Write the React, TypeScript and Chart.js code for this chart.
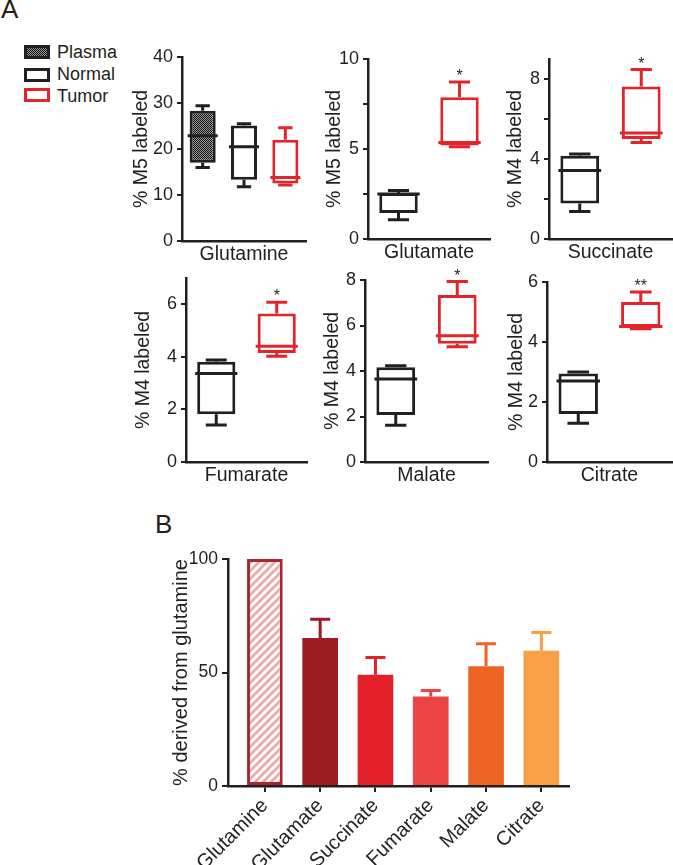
import React, { useEffect, useRef } from 'react';
import { Chart, registerables } from 'chart.js';

Chart.register(...registerables);

const FONT = '"Liberation Sans", Arial, Helvetica, sans-serif';
const INK = '#231f20';
const TUMOR_RED = '#e3242b';

// ---------- Data: panel A (box plots) ----------
const GROUPS = ['Plasma', 'Normal', 'Tumor'];
const METABOLITES = ['Glutamine', 'Glutamate', 'Succinate', 'Fumarate', 'Malate', 'Citrate'];
const PANEL_GROUPS = [[0, 1, 2], [1, 2], [1, 2], [1, 2], [1, 2], [1, 2]];
const BOX_MIN = [[16.0, 11.8, 12.2], [1.07, 5.13], [1.37, 4.83], [1.41, 4.02], [1.61, 5.07], [1.29, 4.44]];
const BOX_Q1 = [[17.0, 13.3, 12.5], [1.44, 5.19], [1.78, 5.0], [1.82, 4.15], [2.07, 5.2], [1.6, 4.5]];
const BOX_MEDIAN = [[22.9, 20.5, 13.8], [2.5, 5.36], [3.43, 5.3], [3.37, 4.4], [3.65, 5.55], [2.7, 4.52]];
const BOX_Q3 = [[28.3, 25.1, 22.0], [2.55, 7.88], [4.16, 7.63], [3.81, 5.65], [4.16, 7.34], [2.95, 5.33]];
const BOX_MAX = [[29.4, 25.5, 24.6], [2.7, 8.72], [4.25, 8.47], [3.88, 6.08], [4.23, 7.93], [3.0, 5.67]];
const SIGNIFICANCE = ['', '*', '*', '*', '*', '**'];
const Y_TITLES = ['% M5 labeled', '% M5 labeled', '% M4 labeled', '% M4 labeled', '% M4 labeled', '% M4 labeled'];
const Y_MAX = [40, 10, 9, 7, 8, 6];
const Y_TICKS = [[0, 10, 20, 30, 40], [0, 2.5, 5, 7.5, 10], [0, 2, 4, 6, 8], [0, 2, 4, 6], [0, 2, 4, 6, 8], [0, 2, 4, 6]];
const Y_TICK_LABELS = [[0, 10, 20, 30, 40], [0, 5, 10], [0, 4, 8], [0, 2, 4, 6], [0, 2, 4, 6, 8], [0, 2, 4, 6]];

// ---------- Data: panel B (bars) ----------
const B_CATEGORIES = ['Glutamine', 'Glutamate', 'Succinate', 'Fumarate', 'Malate', 'Citrate'];
const B_VALUES = [100, 65.2, 49.0, 39.4, 52.8, 59.6];
const B_ERRORS = [0, 8.3, 7.6, 2.7, 9.9, 8.0];
const B_Y_TICKS = [0, 50, 100];

// ---------- Styles / layout ----------
const GROUP_STROKE = [INK, INK, TUMOR_RED];
const B_COLORS = ['#a5262d', '#9d1c21', '#e42129', '#ec4346', '#ee6424', '#f7a046'];
const HATCH_COLOR = '#f2a2a4';

// chart areas in page pixels: left, right, top, bottom, y-title gap from axis
const PANEL_AREAS = [
  { l: 182, r: 306, t: 57, b: 241, gap: 40 },
  { l: 368, r: 490, t: 59, b: 239, gap: 33 },
  { l: 549, r: 672, t: 59, b: 239, gap: 33 },
  { l: 186, r: 307, t: 278, b: 462, gap: 42 },
  { l: 365, r: 488, t: 280, b: 462, gap: 32 },
  { l: 547, r: 672, t: 282, b: 462, gap: 30 },
];
const YW = 90; // y-axis box width
const PT = 28; // top padding
const XH = 30; // x-axis box height
const TICK_FONT = 18;
const TITLE_FONT = 19.5;
const AXIS_W = 2.5;

function makeChecker(): CanvasPattern | string {
  const c = document.createElement('canvas');
  c.width = 2;
  c.height = 2;
  const g = c.getContext('2d');
  if (!g) return '#444';
  g.fillStyle = '#111';
  g.fillRect(0, 0, 2, 2);
  g.fillStyle = '#9a9a9a';
  g.fillRect(0, 0, 1, 1);
  g.fillRect(1, 1, 1, 1);
  return g.createPattern(c, 'repeat') || '#444';
}

function makeHatch(): CanvasPattern | string {
  const s = 8;
  const c = document.createElement('canvas');
  c.width = s;
  c.height = s;
  const g = c.getContext('2d');
  if (!g) return HATCH_COLOR;
  g.fillStyle = '#fff';
  g.fillRect(0, 0, s, s);
  g.strokeStyle = HATCH_COLOR;
  g.lineWidth = 2.6;
  g.beginPath();
  g.moveTo(-2, s + 2);
  g.lineTo(s + 2, -2);
  g.moveTo(-2, 2);
  g.lineTo(2, -2);
  g.moveTo(s - 2, s + 2);
  g.lineTo(s + 2, s - 2);
  g.stroke();
  return g.createPattern(c, 'repeat') || HATCH_COLOR;
}

const boxWhiskerPlugin = {
  id: 'boxWhiskers',
  afterDatasetsDraw(chart: any, _args: any, opts: any) {
    const idx = opts.panel;
    const { ctx } = chart;
    const y = chart.scales.y;
    const meta = chart.getDatasetMeta(0);
    const groups = PANEL_GROUPS[idx];
    meta.data.forEach((bar: any, i: number) => {
      const { x, width } = bar.getProps(['x', 'width'], true);
      const color = GROUP_STROKE[groups[i]];
      const pMin = y.getPixelForValue(BOX_MIN[idx][i]);
      const pMax = y.getPixelForValue(BOX_MAX[idx][i]);
      const pQ1 = y.getPixelForValue(BOX_Q1[idx][i]);
      const pQ3 = y.getPixelForValue(BOX_Q3[idx][i]);
      const pMed = y.getPixelForValue(BOX_MEDIAN[idx][i]);
      const cap = width * 0.55;
      ctx.save();
      ctx.strokeStyle = color;
      ctx.lineWidth = 3;
      ctx.beginPath();
      ctx.moveTo(x, pQ3);
      ctx.lineTo(x, pMax);
      ctx.moveTo(x, pQ1);
      ctx.lineTo(x, pMin);
      ctx.moveTo(x - cap / 2, pMax);
      ctx.lineTo(x + cap / 2, pMax);
      ctx.moveTo(x - cap / 2, pMin);
      ctx.lineTo(x + cap / 2, pMin);
      ctx.moveTo(x - width / 2 - 2, pMed);
      ctx.lineTo(x + width / 2 + 2, pMed);
      ctx.stroke();
      if (i === groups.length - 1 && SIGNIFICANCE[idx]) {
        ctx.fillStyle = INK;
        ctx.font = `16px ${FONT}`;
        ctx.textAlign = 'center';
        ctx.textBaseline = 'alphabetic';
        ctx.fillText(SIGNIFICANCE[idx], x, pMax - 1);
      }
      ctx.restore();
    });
  },
};

const errorBarPlugin = {
  id: 'errorBars',
  afterDatasetsDraw(chart: any) {
    const { ctx } = chart;
    const y = chart.scales.y;
    const meta = chart.getDatasetMeta(0);
    meta.data.forEach((bar: any, i: number) => {
      const err = B_ERRORS[i];
      if (!err) return;
      const { x, y: top } = bar.getProps(['x', 'y'], true);
      const pErr = y.getPixelForValue(B_VALUES[i] + err);
      ctx.save();
      ctx.strokeStyle = B_COLORS[i];
      ctx.lineWidth = 3;
      ctx.beginPath();
      ctx.moveTo(x, top);
      ctx.lineTo(x, pErr);
      ctx.moveTo(x - 10, pErr);
      ctx.lineTo(x + 10, pErr);
      ctx.stroke();
      ctx.restore();
    });
  },
};

function BoxPanel({ idx }: { idx: number }) {
  const ref = useRef<HTMLCanvasElement>(null);
  const a = PANEL_AREAS[idx];
  const pr = Math.min(10, 673 - a.r);
  const left = a.l - YW;
  const top = a.t - PT;
  const width = a.r - a.l + YW + pr;
  const height = a.b - a.t + PT + XH;

  useEffect(() => {
    if (!ref.current) return;
    const groups = PANEL_GROUPS[idx];
    const lh = TITLE_FONT * 1.2;
    const chart = new Chart(ref.current, {
      type: 'bar',
      data: {
        labels: groups.map((g) => GROUPS[g]),
        datasets: [
          {
            data: groups.map((_g, i) => [BOX_Q1[idx][i], BOX_Q3[idx][i]]) as any,
            backgroundColor: groups.map((g) => (g === 0 ? makeChecker() : '#ffffff')) as any,
            borderColor: groups.map((g) => GROUP_STROKE[g]),
            borderWidth: 3,
            borderSkipped: false,
            barPercentage: 0.63,
            categoryPercentage: 1,
          },
        ],
      },
      options: {
        animation: false,
        responsive: false,
        layout: { padding: { top: PT, right: pr, left: 0, bottom: 0 } },
        plugins: {
          legend: { display: false },
          tooltip: { enabled: false },
          boxWhiskers: { panel: idx },
        } as any,
        scales: {
          x: {
            grid: { display: true, drawOnChartArea: false, drawTicks: false },
            border: { display: true, color: INK, width: AXIS_W },
            ticks: { display: false },
            title: {
              display: true,
              text: METABOLITES[idx],
              color: INK,
              font: { family: FONT, size: TITLE_FONT, lineHeight: 1.2 },
              padding: { top: 0, bottom: 5 },
            },
            afterFit: (s: any) => {
              s.height = XH;
            },
          },
          y: {
            min: 0,
            max: Y_MAX[idx],
            afterBuildTicks: (s: any) => {
              s.ticks = Y_TICKS[idx].map((v) => ({ value: v }));
            },
            ticks: {
              color: INK,
              font: { family: FONT, size: TICK_FONT },
              padding: 4,
              callback: (v: any) => (Y_TICK_LABELS[idx].includes(Number(v)) ? String(v) : ''),
            },
            grid: { display: true, drawOnChartArea: false, drawTicks: true, tickLength: 5, color: INK, lineWidth: 2 },
            border: { display: true, color: INK, width: AXIS_W },
            title: {
              display: true,
              text: Y_TITLES[idx],
              color: INK,
              font: { family: FONT, size: TITLE_FONT, lineHeight: 1.2 },
              padding: { top: YW - a.gap - lh / 2, bottom: 0 },
            },
            afterFit: (s: any) => {
              s.width = YW;
            },
          },
        },
      } as any,
      plugins: [boxWhiskerPlugin],
    });
    return () => chart.destroy();
  }, [idx]);

  return (
    <canvas
      ref={ref}
      width={width}
      height={height}
      style={{ position: 'absolute', left, top, width, height }}
    />
  );
}

function BarPanel() {
  const ref = useRef<HTMLCanvasElement>(null);
  const area = { l: 228, r: 569, t: 559, b: 786 };
  const yw = 130;
  const pt = 20;
  const pr = 12;
  const left = area.l - yw;
  const top = area.t - pt;
  const width = area.r - area.l + yw + pr;
  const height = 865 - top;
  const xh = 865 - area.b;

  useEffect(() => {
    if (!ref.current) return;
    const chart = new Chart(ref.current, {
      type: 'bar',
      data: {
        datasets: [
          {
            data: B_VALUES.map((v, i) => ({ x: i, y: v })),
            backgroundColor: B_COLORS.map((c, i) => (i === 0 ? makeHatch() : c)) as any,
            borderColor: B_COLORS,
            borderWidth: B_VALUES.map((_v, i) => (i === 0 ? 3 : 0)),
            borderSkipped: false,
            barPercentage: 0.645,
            categoryPercentage: 1,
          },
        ],
      },
      options: {
        animation: false,
        responsive: false,
        layout: { padding: { top: pt, right: pr, left: 0, bottom: 0 } },
        plugins: { legend: { display: false }, tooltip: { enabled: false } },
        scales: {
          x: {
            type: 'linear',
            min: -0.667,
            max: 5.5,
            offset: false,
            afterBuildTicks: (s: any) => {
              s.ticks = B_CATEGORIES.map((_c, i) => ({ value: i }));
            },
            ticks: {
              autoSkip: false,
              minRotation: 45,
              maxRotation: 45,
              padding: 2,
              color: INK,
              font: { family: FONT, size: 20 },
              callback: (v: any) => B_CATEGORIES[Number(v)] ?? '',
            },
            grid: { display: true, offset: false, drawOnChartArea: false, drawTicks: true, tickLength: 6, color: INK, lineWidth: 2 },
            border: { display: true, color: INK, width: AXIS_W },
            afterFit: (s: any) => {
              s.height = xh;
            },
          },
          y: {
            min: 0,
            max: 100,
            afterBuildTicks: (s: any) => {
              s.ticks = B_Y_TICKS.map((v) => ({ value: v }));
            },
            ticks: { color: INK, font: { family: FONT, size: 17.5 }, padding: 4 },
            grid: { display: true, drawOnChartArea: false, drawTicks: true, tickLength: 6, color: INK, lineWidth: 2 },
            border: { display: true, color: INK, width: AXIS_W },
            title: {
              display: true,
              text: '% derived from glutamine',
              color: INK,
              font: { family: FONT, size: 20, lineHeight: 1.2 },
              padding: { top: 181 - left - 12, bottom: 0 },
            },
            afterFit: (s: any) => {
              s.width = yw;
            },
          },
        },
      } as any,
      plugins: [errorBarPlugin],
    });
    return () => chart.destroy();
  }, []);

  return (
    <canvas
      ref={ref}
      width={width}
      height={height}
      style={{ position: 'absolute', left, top, width, height }}
    />
  );
}

const swatchBase: React.CSSProperties = {
  position: 'absolute',
  left: 24,
  width: 26,
  height: 14,
  boxSizing: 'border-box',
  border: '3px solid ' + INK,
  background: '#fff',
};

const legendText: React.CSSProperties = {
  position: 'absolute',
  left: 57,
  fontSize: 18,
  lineHeight: '18px',
  whiteSpace: 'nowrap',
};

export default function App() {
  useEffect(() => {
    document.body.style.margin = '0';
  }, []);
  return (
    <div
      style={{
        position: 'absolute',
        left: 0,
        top: 0,
        width: 673,
        height: 865,
        overflow: 'hidden',
        background: '#fff',
        fontFamily: FONT,
        color: INK,
      }}
    >
      <div style={{ position: 'absolute', left: 1, top: -4, fontSize: 26, lineHeight: '26px' }}>A</div>
      <div style={{ position: 'absolute', left: 155, top: 511, fontSize: 26, lineHeight: '26px' }}>B</div>

      <div
        style={{
          ...swatchBase,
          top: 45,
          background: 'repeating-conic-gradient(#111 0 25%, #9a9a9a 0 50%) 0 0 / 2px 2px',
        }}
      />
      <div style={{ ...legendText, top: 43 }}>{GROUPS[0]}</div>
      <div style={{ ...swatchBase, top: 68 }} />
      <div style={{ ...legendText, top: 65 }}>{GROUPS[1]}</div>
      <div style={{ ...swatchBase, top: 88, borderColor: TUMOR_RED }} />
      <div style={{ ...legendText, top: 86.5 }}>{GROUPS[2]}</div>

      {METABOLITES.map((_m, i) => (
        <BoxPanel key={i} idx={i} />
      ))}
      <BarPanel />
    </div>
  );
}
